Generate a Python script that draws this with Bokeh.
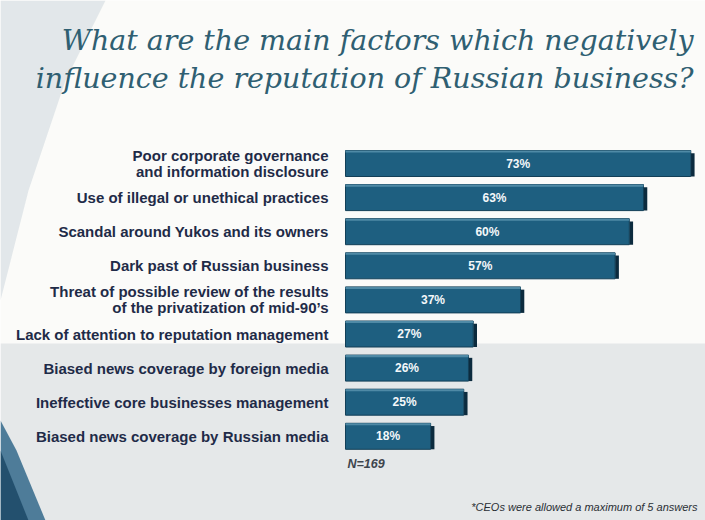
from bokeh.plotting import figure
from bokeh.models import Range1d, ColumnDataSource
from bokeh.embed import file_html
from bokeh.resources import INLINE
from bokeh.core.properties import value

categories = [
    "Poor corporate governance\nand information disclosure",
    "Use of illegal or unethical practices",
    "Scandal around Yukos and its owners",
    "Dark past of Russian business",
    "Threat of possible review of the results\nof the privatization of mid-90\u2019s",
    "Lack of attention to reputation management",
    "Biased news coverage by foreign media",
    "Ineffective core businesses management",
    "Biased news coverage by Russian media",
]
values = [73, 63, 60, 57, 37, 27, 26, 25, 18]
value_labels = [f"{v}%" for v in values]
title_lines = ["What are the main factors which negatively",
               "influence the reputation of Russian business?"]
note_n = "N=169"
footnote = "*CEOs were allowed a maximum of 5 answers"

W, H = 705, 520
OFF = 0             # page offset of the figure as photographed
PXX = 4.73          # pixels per percent
ROW = 34.1          # pixels per row
X0 = -(345 - OFF) / PXX
X1 = X0 + W / PXX
Y1 = (163 - OFF) / ROW
Y0 = Y1 - H / ROW

def px(xp):
    return (xp - OFF) / PXX + X0

def py(yp):
    return (163 - yp) / ROW

p = figure(width=W, height=H, x_range=Range1d(X0, X1), y_range=Range1d(Y0, Y1),
           output_backend="svg", toolbar_location=None, min_border=0)
p.axis.visible = False
p.grid.visible = False
p.outline_line_color = None
p.background_fill_color = "#fbfbf9"
p.border_fill_color = "#fbfbf9"

# background: lower grey band
p.quad(left=[X0], right=[X1], top=[py(343)], bottom=[Y0], fill_color="#e5e8e9", line_color=None)
# left decorative swooshes
p.patch([px(0), px(105), px(65), px(28), px(0)],
        [py(0), py(0), py(80), py(190), py(300)], fill_color="#dfe4e8", line_color=None, alpha=0.9)
p.patch([px(0), px(16), px(45), px(0)],
        [py(420), py(450), py(520), py(520)], fill_color="#3d7090", line_color=None, alpha=0.9)
p.patch([px(0), px(8), px(28), px(0)],
        [py(450), py(470), py(520), py(520)], fill_color="#23506e", line_color=None)

ys = [-i for i in range(len(values))]
bh = 26 / ROW
src = ColumnDataSource(dict(y=ys, v=values, lab=value_labels, cat=categories,
                            mid=[v / 2 for v in values],
                            side=[v + 0.8 for v in values],
                            top=[y + bh / 2 - 0.08 for y in ys],
                            bot=[y - bh / 2 for y in ys],
                            hy=[y + bh / 2 - 0.03 for y in ys]))

# 3D side of bars
p.quad(left="v", right="side", top="top", bottom="bot", source=src,
       fill_color="#0c2b3e", line_color=None)
p.hbar(y="y", left=0, right="v", height=bh, source=src,
       fill_color="#1e5f80", line_color="#123f57", line_width=1)
# top highlight
p.hbar(y="hy", left=0, right="v", height=0.06, source=src,
       fill_color="#4f8aa6", line_color=None)

p.text(x="mid", y="y", text="lab", source=src, text_align="center", text_baseline="middle",
       text_color="#f4f8fa", text_font=value("Liberation Sans"), text_font_style="bold",
       text_font_size="12px")

p.text(x=px(328), y="y", text="cat", source=src, text_align="right", text_baseline="middle",
       text_color="#1f2b48", text_font=value("Liberation Sans"), text_font_style="bold",
       text_font_size="15px", text_line_height=0.95)

p.text(x=[px(693), px(693)], y=[py(40), py(78)], text=title_lines, text_align="right",
       text_baseline="middle", text_color="#2f5f72", text_font=value("DejaVu Serif"),
       text_font_style="italic", text_font_size="28.5px")

p.text(x=[px(347)], y=[py(463)], text=[note_n], text_align="left", text_baseline="middle",
       text_color="#3e454d", text_font=value("Liberation Sans"), text_font_style="bold italic",
       text_font_size="12.5px")
p.text(x=[px(697)], y=[py(506)], text=[footnote], text_align="right", text_baseline="middle",
       text_color="#2a2f35", text_font=value("Liberation Sans"), text_font_style="italic",
       text_font_size="11px")

open("out.html", "w").write(file_html(p, INLINE))
